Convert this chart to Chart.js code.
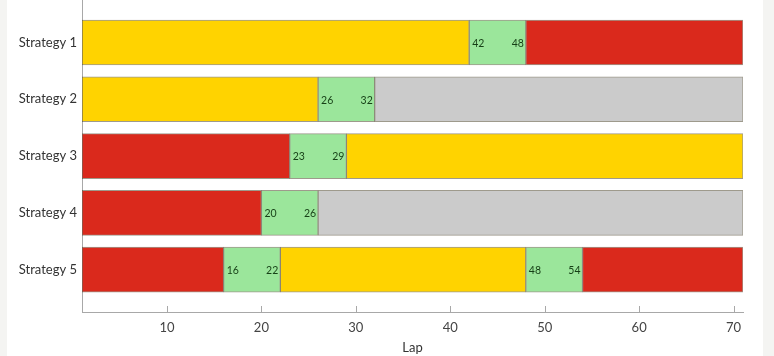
<!DOCTYPE html>
<html>
<head>
<meta charset="utf-8">
<script src="https://cdn.jsdelivr.net/npm/chart.js@4.4.1/dist/chart.umd.min.js"></script>
<style>
  html, body { margin: 0; padding: 0; background: #f4f4f2; }
  #wrap { position: relative; width: 774px; height: 356px; }
  #paper { position: absolute; left: 7px; top: 0; width: 756px; height: 356px; background: #ffffff; }
  #c { position: absolute; left: 0; top: 0; }
</style>
</head>
<body>
<div id="wrap">
  <div id="paper"></div>
  <canvas id="c" width="774" height="356"></canvas>
</div>
<script>
// ---- data ----
const strategies = ['Strategy 1', 'Strategy 2', 'Strategy 3', 'Strategy 4', 'Strategy 5'];
// lap breakpoints of each strategy's segments
const breakpoints = [
  [1, 42, 48, 71],
  [1, 26, 32, 71],
  [1, 23, 29, 71],
  [1, 20, 26, 71],
  [1, 16, 22, 48, 54, 71]
];
// segment type between consecutive breakpoints
const segmentTypes = [
  ['medium', 'window', 'soft'],
  ['medium', 'window', 'hard'],
  ['soft', 'window', 'medium'],
  ['soft', 'window', 'hard'],
  ['soft', 'window', 'medium', 'window', 'soft']
];
const xTicks = [10, 20, 30, 40, 50, 60, 70];
const xMin = 1, xMax = 71;
const xTitle = 'Lap';

const typeColors = {
  soft: '#da291c',
  medium: '#ffd300',
  hard: '#cbcbcb',
  window: '#9be69b'
};

// ---- build datasets: one per segment position ----
const maxSeg = Math.max(...segmentTypes.map(s => s.length));
const datasets = [];
for (let k = 0; k < maxSeg; k++) {
  const data = [], bg = [], types = [];
  strategies.forEach((s, i) => {
    if (k < segmentTypes[i].length) {
      data.push({ x: [breakpoints[i][k], breakpoints[i][k + 1]], y: i + 1 });
      bg.push(typeColors[segmentTypes[i][k]]);
      types.push(segmentTypes[i][k]);
    }
  });
  datasets.push({
    label: 'seg' + k,
    data,
    types,
    backgroundColor: bg,
    borderColor: 'rgba(40,30,0,0.45)',
    borderWidth: 1,
    borderSkipped: false,
    grouped: false,
    barThickness: 45
  });
}

const FONT = 'Lato, "Noto Sans", sans-serif';

const windowLabels = {
  id: 'windowLabels',
  afterDatasetsDraw(chart) {
    const ctx = chart.ctx;
    ctx.save();
    ctx.font = '10.5px ' + FONT;
    ctx.fillStyle = '#163f16';
    ctx.textBaseline = 'middle';
    chart.data.datasets.forEach((ds, di) => {
      const meta = chart.getDatasetMeta(di);
      meta.data.forEach((el, j) => {
        if (ds.types[j] !== 'window') return;
        const v = ds.data[j].x;
        const left = Math.min(el.x, el.base), right = Math.max(el.x, el.base);
        ctx.textAlign = 'left';
        ctx.fillText(String(v[0]), left + 3, el.y + 1);
        ctx.textAlign = 'right';
        ctx.fillText(String(v[1]), right - 2, el.y + 1);
      });
    });
    ctx.restore();
  }
};

const innerTicks = {
  id: 'innerTicks',
  afterDraw(chart) {
    const ctx = chart.ctx;
    const xs = chart.scales.x;
    const b = chart.chartArea.bottom;
    ctx.save();
    ctx.strokeStyle = '#a8a8a8';
    ctx.lineWidth = 1;
    xs.ticks.forEach(t => {
      const px = Math.round(xs.getPixelForValue(t.value)) + 0.5;
      ctx.beginPath();
      ctx.moveTo(px, b);
      ctx.lineTo(px, b - 6);
      ctx.stroke();
    });
    ctx.restore();
  }
};

new Chart(document.getElementById('c'), {
  type: 'bar',
  data: { datasets },
  plugins: [windowLabels, innerTicks],
  options: {
    indexAxis: 'y',
    responsive: false,
    animation: false,
    layout: { padding: { top: 0, right: 31, bottom: 0, left: 0 } },
    plugins: { legend: { display: false }, tooltip: { enabled: false } },
    scales: {
      x: {
        type: 'linear',
        min: xMin,
        max: xMax,
        afterBuildTicks: s => { s.ticks = xTicks.map(v => ({ value: v })); },
        afterFit: s => { s.height = 44; s.paddingLeft = 0; s.paddingRight = 0; },
        grid: { display: false, drawTicks: false },
        border: { display: true, color: '#a8a8a8', width: 1 },
        ticks: { color: '#444', font: { family: FONT, size: 13 }, padding: 8, maxRotation: 0 },
        title: { display: true, text: xTitle, color: '#333', font: { family: FONT, size: 13 }, padding: { top: 0, bottom: 0 } }
      },
      y: {
        type: 'linear',
        reverse: true,
        offset: false,
        min: 0.252,
        max: 5.745,
        afterBuildTicks: s => { s.ticks = strategies.map((n, i) => ({ value: i + 1 })); },
        afterFit: s => { s.width = 82; s.paddingTop = 0; s.paddingBottom = 0; },
        grid: { display: false, drawTicks: false, offset: false },
        border: { display: true, color: '#a8a8a8', width: 1 },
        ticks: {
          color: '#333',
          font: { family: FONT, size: 13 },
          padding: 5,
          callback: v => strategies[v - 1]
        }
      }
    }
  }
});
</script>
</body>
</html>
